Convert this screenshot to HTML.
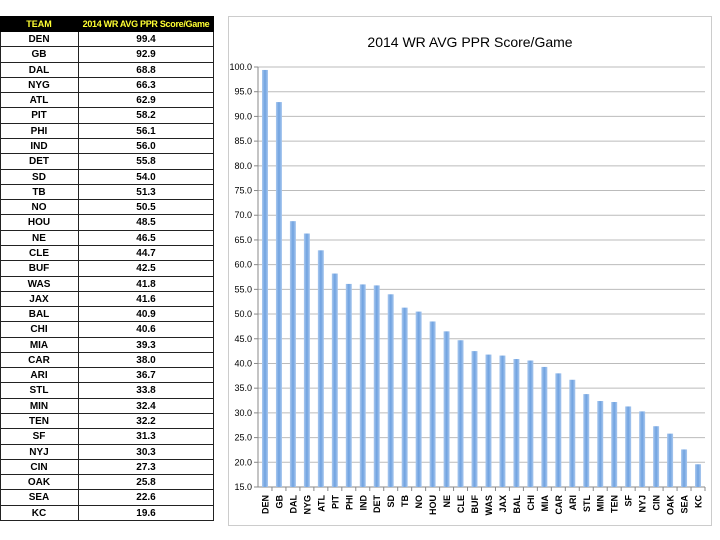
<!DOCTYPE html>
<html><head><style>
body{margin:0;width:720px;height:540px;background:#fff;font-family:"Liberation Sans",sans-serif;overflow:hidden}
.r{position:absolute;left:0;width:214px;font-size:10px;font-weight:bold;border-bottom:1px solid #222;box-sizing:border-box}
.r span{position:absolute;top:0;text-align:center}
.a{left:0;width:78px}.b{left:78px;width:136px}
</style></head><body>
<div id="t"></div>
<svg style="position:absolute;left:0;top:0" width="720" height="540" id="s"></svg>
<script>
var d=[["DEN",99.4],["GB",92.9],["DAL",68.8],["NYG",66.3],["ATL",62.9],["PIT",58.2],["PHI",56.1],["IND",56.0],["DET",55.8],["SD",54.0],["TB",51.3],["NO",50.5],["HOU",48.5],["NE",46.5],["CLE",44.7],["BUF",42.5],["WAS",41.8],["JAX",41.6],["BAL",40.9],["CHI",40.6],["MIA",39.3],["CAR",38.0],["ARI",36.7],["STL",33.8],["MIN",32.4],["TEN",32.2],["SF",31.3],["NYJ",30.3],["CIN",27.3],["OAK",25.8],["SEA",22.6],["KC",19.6]];
var h='<div style="position:absolute;left:0;top:16px;width:214px;height:16px;background:#000;color:#ffff33;font-size:9px;font-weight:bold;line-height:16px;white-space:nowrap"><span style="position:absolute;left:0;width:78px;text-align:center">TEAM</span><span style="position:absolute;left:78px;width:136px;text-align:center;letter-spacing:-0.3px">2014 WR AVG PPR Score/Game</span></div>';
var rh=489/32;
d.forEach(function(r,i){var y=32+i*rh;h+='<div class="r" style="top:'+y+'px;height:'+rh+'px;line-height:'+rh+'px"><span class="a">'+r[0]+'</span><span class="b">'+r[1].toFixed(1)+'</span></div>'});
h+='<div style="position:absolute;left:0;top:32px;width:214px;height:489px;border:1px solid #222;border-top:none;box-sizing:border-box"></div><div style="position:absolute;left:78px;top:32px;width:1px;height:489px;background:#222"></div>';
document.getElementById('t').innerHTML=h;
var s='<defs><linearGradient id="g" x1="0" x2="1"><stop offset="0" stop-color="#a9c8ef"/><stop offset="0.5" stop-color="#6fa2e0"/><stop offset="1" stop-color="#a9c8ef"/></linearGradient></defs>';
s+='<rect x="228.5" y="16.5" width="483" height="509" fill="#fff" stroke="#ccc"/>';
s+='<text x="470" y="47" text-anchor="middle" font-size="14" font-family="Liberation Sans">2014 WR AVG PPR Score/Game</text>';
function Y(v){return 487-(v-15)*420/85}
for(var v=15;v<=100;v+=5){var y=Y(v);s+='<line x1="258" x2="705" y1="'+y+'" y2="'+y+'" stroke="'+(v==15?'#888':'#bbb')+'"/><line x1="254" x2="258" y1="'+y+'" y2="'+y+'" stroke="#888"/><text x="252" y="'+(y+3)+'" text-anchor="end" font-size="9">'+v.toFixed(1)+'</text>'}
s+='<line x1="258" x2="258" y1="67" y2="487" stroke="#888"/>';
var w=447/32;
d.forEach(function(r,i){var x=258+w*(i+0.5);s+='<rect x="'+(x-3)+'" y="'+Y(r[1])+'" width="6" height="'+(487-Y(r[1]))+'" fill="url(#g)"/>';
s+='<line x1="'+(258+w*(i+1))+'" x2="'+(258+w*(i+1))+'" y1="487" y2="491" stroke="#888"/>';
s+='<text transform="translate('+(x+3.5)+',495) rotate(-90)" text-anchor="end" font-size="9" font-weight="bold">'+r[0]+'</text>'});
document.getElementById('s').innerHTML=s;
</script>
</body></html>
